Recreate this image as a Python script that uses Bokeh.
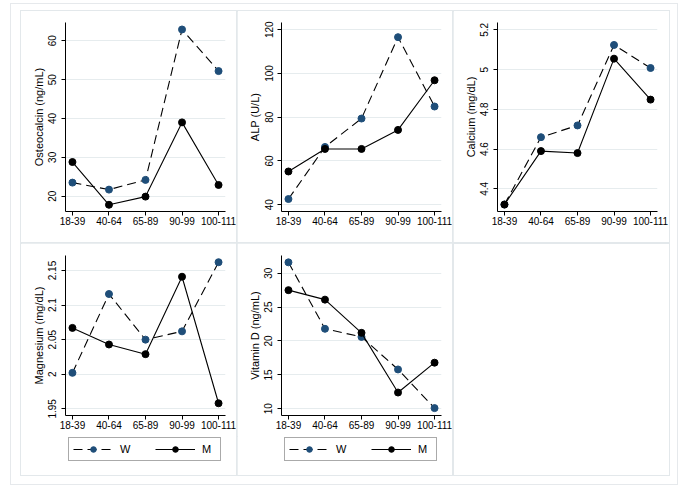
from bokeh.plotting import figure
from bokeh.layouts import row, column
from bokeh.models import FixedTicker, Range1d, Legend, LegendItem, Spacer
from bokeh.embed import file_html
from bokeh.resources import INLINE

ages = ["18-39", "40-64", "65-89", "90-99", "100-111"]

osteo_w = [23.5, 21.7, 24.2, 62.9, 52.2]
osteo_m = [28.8, 17.8, 19.9, 39.0, 22.9]
alp_w = [42.6, 66.4, 79.4, 116.6, 84.9]
alp_m = [55.2, 65.5, 65.5, 74.2, 96.9]
ca_w = [4.321, 4.66, 4.719, 5.124, 5.008]
ca_m = [4.321, 4.59, 4.58, 5.055, 4.849]
mg_w = [2.002, 2.116, 2.05, 2.062, 2.162]
mg_m = [2.067, 2.043, 2.029, 2.141, 1.958]
vd_w = [31.6, 21.8, 20.6, 15.8, 10.1]
vd_m = [27.5, 26.1, 21.2, 12.4, 16.8]

osteo_ticks = [20, 30, 40, 50, 60]
osteo_labels = ["20", "30", "40", "50", "60"]
alp_ticks = [40, 60, 80, 100, 120]
alp_labels = ["40", "60", "80", "100", "120"]
ca_ticks = [4.4, 4.6, 4.8, 5.0, 5.2]
ca_labels = ["4.4", "4.6", "4.8", "5", "5.2"]
mg_ticks = [1.95, 2.0, 2.05, 2.1, 2.15]
mg_labels = ["1.95", "2", "2.05", "2.1", "2.15"]
vd_ticks = [10, 15, 20, 25, 30]
vd_labels = ["10", "15", "20", "25", "30"]
groups = ["W", "M"]

BLUE = "#1f4e79"
FONT = "Liberation Sans"
PANEL_BORDER = "1px solid #e3e8eb"
DASH = "9 5"


def panel(label, w, m, yr, ticks, tick_labels, height, top, bottom):
    p = figure(width=216, height=height, x_range=Range1d(-0.19, 4.19),
               y_range=Range1d(*yr), output_backend="svg", toolbar_location=None,
               min_border_left=44, min_border_right=12,
               min_border_top=top, min_border_bottom=bottom,
               background_fill_color="white", border_fill_color="white")
    p.outline_line_color = None
    x = list(range(len(ages)))
    p.line(x, w, line_color="black", line_dash=DASH, line_width=1.1)
    p.scatter(x, w, size=7, fill_color=BLUE, line_color=BLUE)
    p.line(x, m, line_color="black", line_width=1.1)
    p.scatter(x, m, size=7, fill_color="black", line_color="black")

    p.xgrid.visible = False
    p.ygrid.ticker = FixedTicker(ticks=ticks)
    p.ygrid.grid_line_color = "#e6ecee"
    p.ygrid.grid_line_width = 1

    xa = p.xaxis[0]
    xa.ticker = FixedTicker(ticks=x)
    xa.major_label_overrides = {i: a for i, a in enumerate(ages)}
    ya = p.yaxis[0]
    ya.ticker = FixedTicker(ticks=ticks)
    ya.major_label_overrides = {t: s for t, s in zip(ticks, tick_labels)}
    ya.major_label_orientation = "vertical"
    ya.axis_label = label
    for ax in (xa, ya):
        ax.axis_line_color = "black"
        ax.major_tick_line_color = "black"
        ax.major_tick_out = 4
        ax.major_tick_in = 0
        ax.minor_tick_line_color = None
        ax.major_label_text_font = FONT
        ax.major_label_text_font_size = "10px"
        ax.major_label_text_color = "black"
        ax.axis_label_text_font = FONT
        ax.axis_label_text_font_size = "11px"
        ax.axis_label_text_font_style = "normal"
        ax.axis_label_text_color = "black"
    xa.major_label_standoff = 1
    ya.major_label_standoff = 5
    ya.axis_label_standoff = 1
    return p


def legend_fig(w, m):
    # legend-only strip; the series are drawn off-screen so the legend glyphs render
    q = figure(width=216, height=39, x_range=Range1d(100, 101), y_range=Range1d(0, 1),
               output_backend="svg", toolbar_location=None,
               x_axis_location=None, y_axis_location=None,
               min_border=0, min_border_left=0, min_border_right=0,
               min_border_top=0, min_border_bottom=0,
               background_fill_color="white", border_fill_color="white")
    q.outline_line_color = None
    q.grid.visible = False
    x = list(range(len(ages)))
    lw = q.line(x, w, line_color="black", line_dash=DASH, line_width=1.1)
    sw = q.scatter(x, w, size=7, fill_color=BLUE, line_color=BLUE)
    lm = q.line(x, m, line_color="black", line_width=1.1)
    sm = q.scatter(x, m, size=7, fill_color="black", line_color="black")
    leg = Legend(items=[LegendItem(label=groups[0], renderers=[lw, sw]),
                        LegendItem(label=groups[1], renderers=[lm, sm])],
                 location=(3, 14), orientation="horizontal",
                 glyph_width=40, glyph_height=14, label_standoff=7,
                 label_width=14, spacing=21, padding=4, margin=0,
                 label_text_font=FONT, label_text_font_size="11px",
                 label_text_color="black",
                 border_line_color="#555555", border_line_width=1,
                 background_fill_color="white", background_fill_alpha=1)
    q.add_layout(leg)
    return q


p1 = panel("Osteocalcin (ng/mL)", osteo_w, osteo_m, (16.07, 64.7), osteo_ticks, osteo_labels, 232, 11, 32)
p2 = panel("ALP (U/L)", alp_w, alp_m, (36.9, 123.3), alp_ticks, alp_labels, 232, 11, 32)
p3 = panel("Calcium (mg/dL)", ca_w, ca_m, (4.286, 5.237), ca_ticks, ca_labels, 232, 11, 32)
p4 = panel("Magnesium (mg/dL)", mg_w, mg_m, (1.9403, 2.1717), mg_ticks, mg_labels, 193, 12, 21)
p5 = panel("Vitamin D (ng/mL)", vd_w, vd_m, (9.01, 32.61), vd_ticks, vd_labels, 193, 12, 21)
for p in (p1, p2, p3):
    p.styles = {"outline": PANEL_BORDER}

c4 = column(p4, legend_fig(mg_w, mg_m), styles={"outline": PANEL_BORDER})
c5 = column(p5, legend_fig(vd_w, vd_m), styles={"outline": PANEL_BORDER})
empty = Spacer(width=216, height=232, styles={"outline": PANEL_BORDER})

grid = column(row(p1, p2, p3), row(c4, c5, empty))
outer = column(Spacer(height=8), row(Spacer(width=11), grid, Spacer(width=9)),
               Spacer(height=10),
               styles={"outline": "1px solid #e6e9ec", "outline-offset": "-1px"})
layout = column(Spacer(height=3), row(Spacer(width=10), outer))

open("out.html", "w").write(file_html(layout, INLINE))
